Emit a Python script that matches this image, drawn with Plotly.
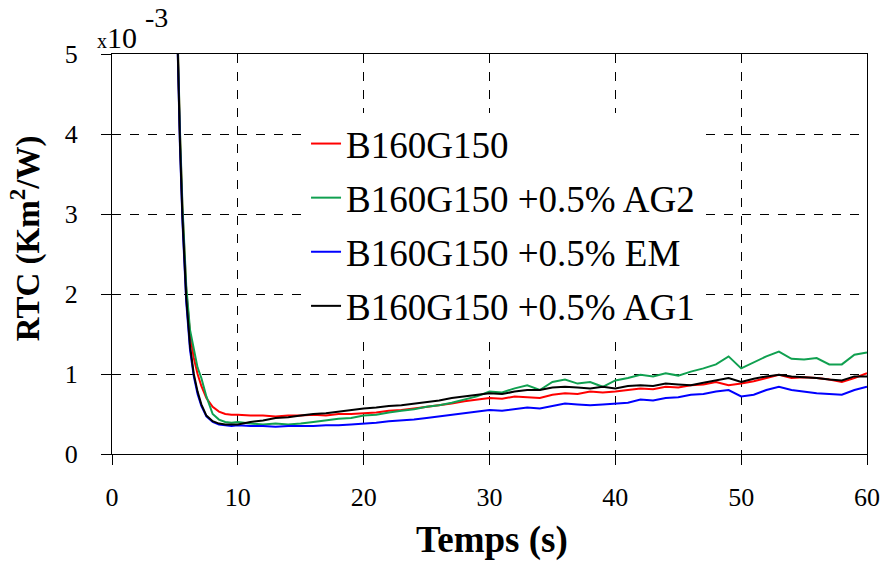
import plotly.graph_objects as go

# time axis: fast decay part, then one point per second
T_DECAY = [5.0, 5.2, 5.4, 5.6, 5.9, 6.2, 6.5, 6.8, 7.1, 7.5, 8.0, 8.5, 9.0, 9.5]
T_SLOW = [10, 11, 12, 13, 14, 15, 16, 17, 18, 19, 20, 21, 22, 23, 24, 25, 26, 27, 28, 29,
          30, 31, 32, 33, 34, 35, 36, 37, 38, 39, 40, 41, 42, 43, 44, 45, 46, 47, 48, 49,
          50, 51, 52, 53, 54, 55, 56, 57, 58, 59, 60]
TIME = T_DECAY + T_SLOW

# RTC values in 1e-3 K.m2/W
RTC_REF = [6.6, 5.2, 4.0, 3.05, 2.05, 1.5, 1.2, 1.0, 0.85, 0.70, 0.59, 0.53, 0.50, 0.49,
           0.49, 0.48, 0.48, 0.47, 0.48, 0.48, 0.49, 0.48, 0.50, 0.50, 0.51, 0.52, 0.54, 0.55,
           0.57, 0.59, 0.61, 0.63, 0.66, 0.68, 0.70, 0.69, 0.72, 0.71, 0.70, 0.74, 0.76, 0.75,
           0.78, 0.77, 0.78, 0.80, 0.82, 0.81, 0.84, 0.83, 0.86, 0.87, 0.90, 0.86, 0.88, 0.91,
           0.95, 0.99, 0.95, 0.96, 0.95, 0.93, 0.90, 0.95, 1.01]
RTC_AG2 = [6.6, 5.25, 4.05, 3.1, 2.1, 1.55, 1.3, 1.08, 0.95, 0.72, 0.50, 0.43, 0.40, 0.39,
           0.40, 0.38, 0.37, 0.38, 0.37, 0.38, 0.40, 0.42, 0.44, 0.45, 0.48, 0.49, 0.52, 0.54,
           0.56, 0.59, 0.61, 0.64, 0.68, 0.72, 0.78, 0.77, 0.82, 0.86, 0.80, 0.90, 0.93, 0.88,
           0.90, 0.84, 0.92, 0.95, 0.99, 0.97, 1.01, 0.98, 1.03, 1.07, 1.12, 1.22, 1.07, 1.15,
           1.22, 1.28, 1.19, 1.18, 1.20, 1.12, 1.12, 1.24, 1.27]
RTC_EM = [6.5, 5.05, 3.85, 2.9, 1.9, 1.3, 0.97, 0.75, 0.60, 0.47, 0.40, 0.37, 0.36, 0.35,
          0.36, 0.35, 0.35, 0.34, 0.35, 0.35, 0.35, 0.36, 0.36, 0.37, 0.38, 0.39, 0.41, 0.42,
          0.43, 0.45, 0.47, 0.49, 0.51, 0.53, 0.55, 0.54, 0.56, 0.58, 0.57, 0.60, 0.63, 0.62,
          0.61, 0.62, 0.63, 0.64, 0.68, 0.67, 0.70, 0.71, 0.74, 0.75, 0.78, 0.80, 0.72, 0.74,
          0.80, 0.84, 0.80, 0.78, 0.76, 0.75, 0.74, 0.80, 0.84]
RTC_AG1 = [6.5, 5.1, 3.9, 2.95, 1.95, 1.35, 1.0, 0.78, 0.62, 0.48, 0.41, 0.38, 0.37, 0.37,
           0.37, 0.40, 0.42, 0.45, 0.46, 0.48, 0.50, 0.51, 0.53, 0.55, 0.57, 0.58, 0.60, 0.61,
           0.63, 0.65, 0.67, 0.70, 0.72, 0.74, 0.76, 0.75, 0.78, 0.80, 0.80, 0.83, 0.84, 0.83,
           0.82, 0.84, 0.82, 0.85, 0.86, 0.85, 0.88, 0.87, 0.86, 0.89, 0.92, 0.95, 0.90, 0.94,
           0.97, 0.99, 0.97, 0.96, 0.95, 0.93, 0.92, 0.97, 0.97]

SERIES = [
    ("B160G150", RTC_REF, "#FF0000"),
    ("B160G150 +0.5% AG2", RTC_AG2, "#10A050"),
    ("B160G150 +0.5% EM", RTC_EM, "#0000FF"),
    ("B160G150 +0.5% AG1", RTC_AG1, "#000000"),
]

FONT = "Liberation Serif, DejaVu Serif, serif"

fig = go.Figure()
for name, vals, color in SERIES:
    fig.add_trace(go.Scatter(
        x=TIME, y=vals, mode="lines", name=name,
        line=dict(color=color, width=2),
        legendgroup=name,
    ))

axis_common = dict(
    showline=True, linecolor="black", linewidth=1, mirror=True,
    showgrid=True, gridcolor="black", gridwidth=1, griddash="dash",
    zeroline=False, ticks="outside", ticklen=10, tickcolor="black",
    tickfont=dict(family=FONT, size=26, color="black"),
)

# page body adds 8px, so the figure is a bit smaller than the window
fig.update_layout(
    width=884, height=555,
    paper_bgcolor="white", plot_bgcolor="white",
    margin=dict(l=104, r=21, t=46, b=109),
    font=dict(family=FONT, color="black"),
    xaxis=dict(**axis_common, range=[0, 60], dtick=10, ticklabelstandoff=10),
    yaxis=dict(**axis_common, range=[0, 5], dtick=1, ticklabelstandoff=18),
    legend=dict(
        x=0.257, y=0.8525, xanchor="left", yanchor="top",
        bgcolor="white", borderwidth=0,
        font=dict(family=FONT, size=37, color="black"),
        tracegroupgap=3,
    ),
    showlegend=True,
)

fig.add_annotation(
    xref="paper", yref="paper", x=0.503, y=-0.215, xanchor="center", yanchor="middle",
    text="<b>Temps (s)</b>", showarrow=False,
    font=dict(family=FONT, size=37, color="black"),
)
fig.add_annotation(
    xref="paper", yref="paper", x=-0.115, y=0.54, xanchor="center", yanchor="middle",
    text="<b>RTC (Km<sup>2</sup>/W)</b>", showarrow=False, textangle=-90,
    font=dict(family=FONT, size=33, color="black"),
)
fig.add_annotation(
    xref="paper", yref="paper", x=-0.022, y=1.04, xanchor="left", yanchor="middle",
    text="<span style='font-size:20px'>x</span>10",
    showarrow=False, font=dict(family=FONT, size=30, color="black"),
)
fig.add_annotation(
    xref="paper", yref="paper", x=0.041, y=1.091, xanchor="left", yanchor="middle",
    text="-3", showarrow=False, font=dict(family=FONT, size=28, color="black"),
)

fig.write_html("out.html")
